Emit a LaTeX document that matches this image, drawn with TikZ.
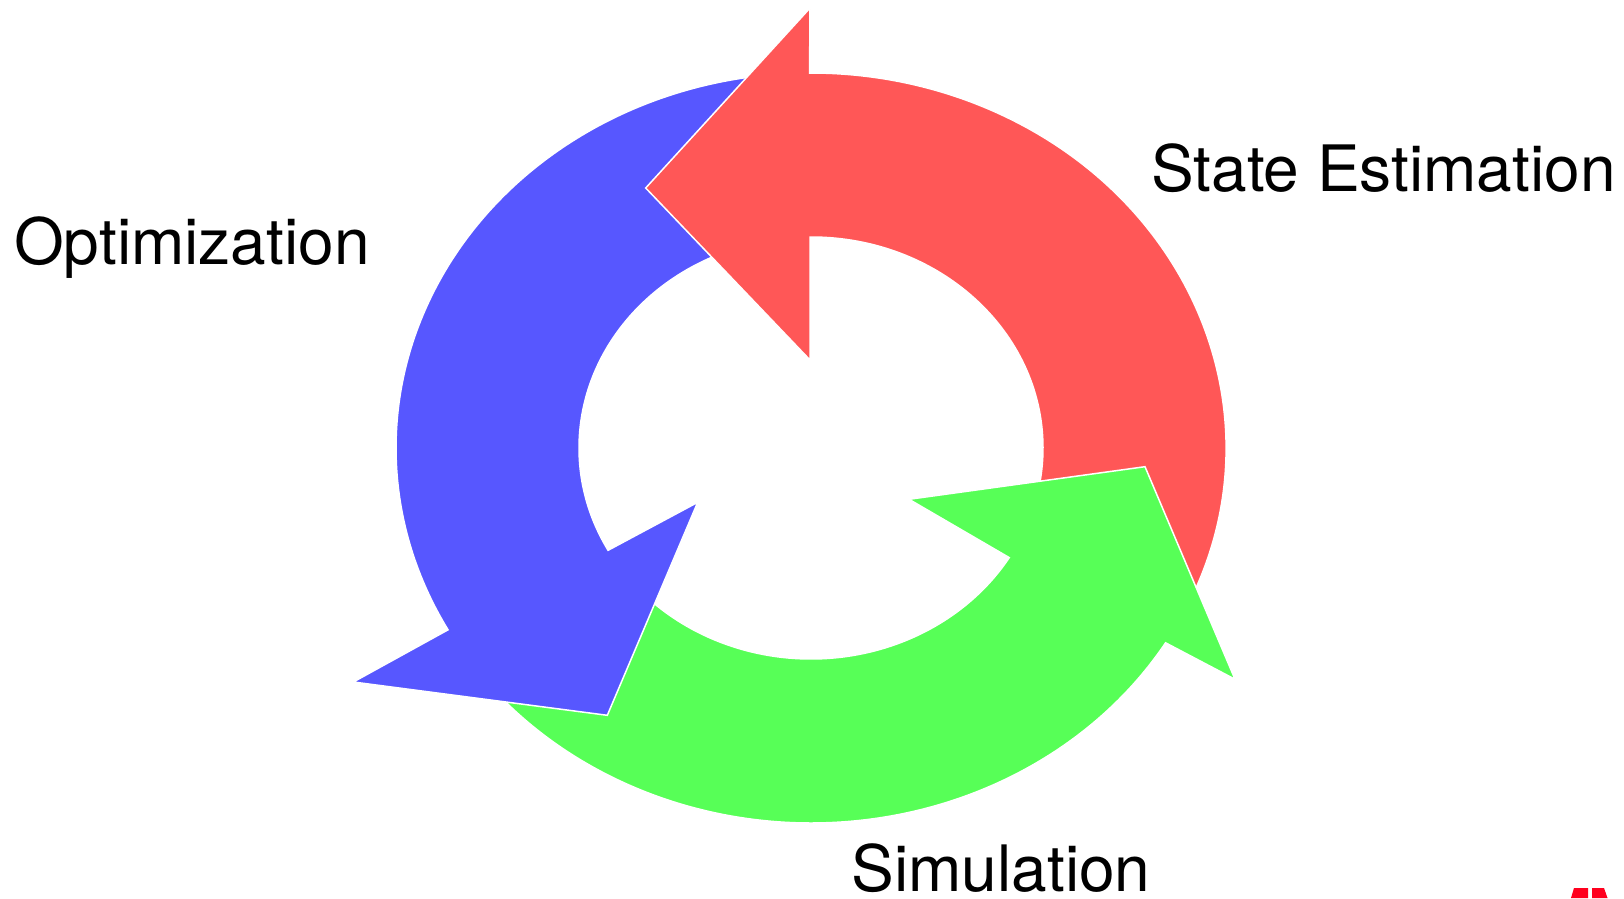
\documentclass[tikz,border=0pt]{standalone}
\usepackage{fontspec}
\setmainfont{TeX Gyre Heros}
\definecolor{redA}{RGB}{255,87,87}
\definecolor{blueA}{RGB}{87,87,255}
\definecolor{greenA}{RGB}{87,255,87}
\definecolor{logored}{RGB}{255,0,30}
\begin{document}
\begin{tikzpicture}[x=1pt,y=1pt,
  lbl/.style={anchor=base west, inner sep=0pt, font=\fontsize{64}{70}\selectfont},
  arrowshape/.style={draw=white, line width=1.5pt, line join=miter}]
\useasboundingbox (0,0) rectangle (1624,898);
\coordinate (C) at (811,450);
% head points of the three arrows
\coordinate (rT) at (810,890);
\coordinate (rTip) at (645.7,710);
\coordinate (rB) at (810,538);
\coordinate (gO) at (1235,218.7);
\coordinate (gTip) at (1145,431.3);
\coordinate (gI) at (909,398.7);
\coordinate (bO) at (353.3,216);
\coordinate (bTip) at (607.3,182.7);
\coordinate (bI) at (697.7,395.7);

% blue arrow (top -> lower left)
\filldraw[arrowshape, fill=blueA]
  ([shift={(96:415 and 375)}]C) arc[start angle=96, end angle=209, x radius=415, y radius=375]
  -- (bO) -- (bTip) -- (bI)
  -- ([shift={(209:232 and 211)}]C) arc[start angle=209, end angle=96, x radius=232, y radius=211] -- cycle;

% red arrow (right -> top)
\filldraw[arrowshape, fill=redA]
  ([shift={(-25:415 and 375)}]C) arc[start angle=-25, end angle=90.2, x radius=415, y radius=375]
  -- (rT) -- (rTip) -- (rB)
  -- ([shift={(90.2:232 and 211)}]C) arc[start angle=90.2, end angle=-25, x radius=232, y radius=211] -- cycle;

% green arrow (bottom -> right)
\filldraw[arrowshape, fill=greenA]
  ([shift={(215:415 and 375)}]C) arc[start angle=215, end angle=328.7, x radius=415, y radius=375]
  -- (gO) -- (gTip) -- (gI)
  -- ([shift={(328.7:232 and 211)}]C) arc[start angle=328.7, end angle=215, x radius=232, y radius=211] -- cycle;

% blue head again, on top of the green tail
\begin{scope}
  \clip (300,140) rectangle (760,420);
  \filldraw[arrowshape, fill=blueA]
    ([shift={(96:415 and 375)}]C) arc[start angle=96, end angle=209, x radius=415, y radius=375]
    -- (bO) -- (bTip) -- (bI)
    -- ([shift={(209:232 and 211)}]C) arc[start angle=209, end angle=96, x radius=232, y radius=211] -- cycle;
\end{scope}

% labels
\node[lbl] (opt) at (14,633) {Optimization};
\node[lbl] (est) at (1151,706) {State Estimation};
\node[lbl] (sim) at (851.5,6.3) {Simulation};

% edge of the logo in the corner
\fill[logored] (1571,0) -- (1574,10) -- (1588,10) -- (1588,0) -- cycle;
\fill[logored] (1592,0) -- (1592,10) -- (1604,10) -- (1607.5,0) -- cycle;
\end{tikzpicture}
\end{document}
